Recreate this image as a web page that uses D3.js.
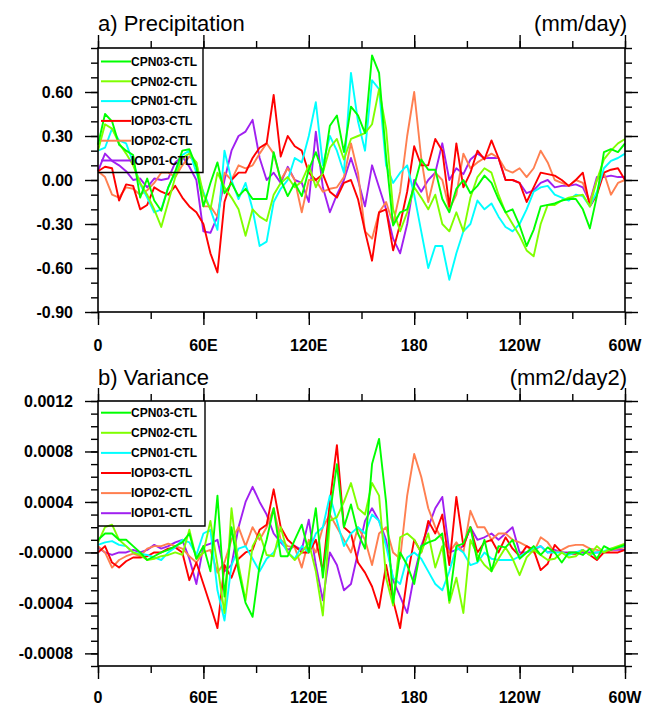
<!DOCTYPE html>
<html>
<head>
<meta charset="utf-8">
<script src="https://cdn.jsdelivr.net/npm/d3@7"></script>
<style>
  html, body { margin: 0; padding: 0; background: #fff; }
  svg { display: block; font-family: "Liberation Sans", Arial, Helvetica, sans-serif; }
</style>
</head>
<body>
<svg id="chart" width="649" height="708"></svg>
<script>
// Longitude grid (degrees east of 0), shared by all series
const lons = [0,4,8,12,16,20,24,28,32,36,40,44,48,52,56,60,64,68,72,76,80,84,88,92,96,
  100,104,108,112,116,120,124,128,132,136,140,144,148,152,156,160,164,168,172,176,180,184,188,192,196,
  200,204,208,212,216,220,224,228,232,236,240,244,248,252,256,260,264,268,272,276,280,284,288,292,296,300];

const seriesNames  = ["CPN03-CTL", "CPN02-CTL", "CPN01-CTL", "IOP03-CTL", "IOP02-CTL", "IOP01-CTL"];
const seriesColors = ["#00ff00", "#7fff00", "#00ffff", "#ff0000", "#ff7f50", "#a020f0"];

const xTickValues = [0, 60, 120, 180, 240, 300];
const xTickLabels = ["0", "60E", "120E", "180", "120W", "60W"];

const precipTickValues = [-0.9, -0.6, -0.3, 0, 0.3, 0.6];
const precipTickLabels = ["-0.90", "-0.60", "-0.30", "0.00", "0.30", "0.60"];
const varTickValues = [-0.0008, -0.0004, 0, 0.0004, 0.0008, 0.0012];
const varTickLabels = ["-0.0008", "-0.0004", "-0.0000", "0.0004", "0.0008", "0.0012"];

// a) precipitation differences (mm/day)
const precipCPN03 = [0.24,0.45,0.40,0.24,0.20,0.17,-0.12,0.01,-0.14,-0.21,-0.05,0.06,0.20,0.21,0.09,-0.18,-0.02,0.12,-0.09,-0.02,-0.11,-0.06,-0.13,-0.13,-0.13,
  0.19,0.00,-0.11,-0.02,-0.11,0.07,0.19,0.05,0.37,0.44,0.19,0.50,0.44,0.32,0.85,0.73,0.16,-0.31,-0.22,-0.20,-0.04,0.14,0.07,0.07,-0.13,
  -0.22,-0.06,0.00,-0.09,-0.04,0.03,-0.02,-0.13,-0.22,-0.20,-0.31,-0.45,-0.34,-0.18,-0.17,-0.16,-0.14,-0.13,-0.13,-0.20,-0.33,-0.11,0.19,0.21,0.19,0.25];
const precipCPN02 = [0.20,0.38,0.35,0.25,0.18,0.10,-0.02,-0.10,-0.20,-0.32,-0.15,0.02,0.15,0.18,0.12,-0.10,-0.20,0.05,-0.05,-0.12,-0.20,-0.38,-0.20,-0.25,-0.28,
  -0.10,-0.02,0.02,-0.05,-0.01,0.10,-0.05,0.05,0.22,0.28,0.14,0.28,0.30,0.32,0.38,0.62,0.35,-0.20,-0.35,-0.22,-0.05,-0.12,-0.20,-0.10,-0.30,
  -0.35,-0.22,-0.35,-0.12,0.02,0.08,0.05,-0.10,-0.22,-0.30,-0.38,-0.48,-0.52,-0.30,-0.17,-0.17,-0.14,-0.12,-0.11,-0.10,-0.18,0.00,0.14,0.20,0.25,0.28];
const precipCPN01 = [0.20,0.22,0.35,0.27,0.25,0.12,-0.03,-0.12,-0.22,-0.20,-0.05,0.05,0.17,0.20,0.05,-0.08,-0.20,-0.34,0.20,0.00,-0.13,-0.02,-0.20,-0.45,-0.42,
  -0.15,-0.06,0.00,0.15,0.12,0.30,0.53,0.10,0.30,0.20,0.05,0.73,0.40,0.20,0.68,0.62,0.10,-0.02,0.05,0.10,-0.10,-0.35,-0.60,-0.45,-0.45,
  -0.68,-0.50,-0.35,-0.30,-0.14,-0.20,-0.16,-0.25,-0.32,-0.35,-0.30,-0.20,-0.08,-0.05,-0.04,-0.10,-0.12,-0.14,-0.10,-0.11,-0.18,-0.08,0.08,0.13,0.15,0.18];
const precipIOP03 = [0.06,0.09,0.08,-0.14,-0.03,-0.04,-0.20,-0.17,-0.05,-0.08,-0.10,-0.04,-0.12,-0.18,-0.22,-0.30,-0.50,-0.63,-0.15,0.00,0.05,0.05,0.15,0.22,0.25,
  0.58,0.16,0.30,0.23,0.20,0.05,0.00,0.04,-0.08,-0.12,-0.02,0.00,-0.13,-0.35,-0.55,-0.22,-0.20,-0.48,-0.30,-0.08,0.23,0.10,0.10,0.28,0.20,
  -0.18,0.25,-0.05,0.05,0.20,0.14,0.27,0.15,0.00,0.00,-0.02,-0.15,-0.05,0.05,0.04,0.03,0.00,-0.04,0.00,0.05,-0.18,-0.10,0.05,0.07,0.08,0.00];
const precipIOP02 = [0.06,0.02,-0.10,-0.12,-0.05,-0.06,-0.10,-0.07,-0.02,0.05,0.05,0.02,0.10,0.16,0.12,-0.18,-0.18,-0.25,0.05,0.00,0.10,0.08,0.10,0.18,0.25,
  0.18,0.00,0.08,0.00,-0.22,0.00,0.00,-0.08,-0.06,-0.05,0.02,0.25,0.05,-0.35,-0.40,-0.22,-0.15,-0.30,-0.08,0.30,0.60,0.15,-0.15,0.05,0.00,
  -0.20,-0.10,0.18,0.08,0.12,0.15,0.18,0.15,0.07,0.05,0.08,0.02,0.08,0.20,0.12,0.00,-0.02,-0.04,0.00,-0.02,-0.15,0.00,0.05,-0.10,-0.02,0.00];
const precipIOP01 = [0.06,0.18,0.13,0.10,0.06,0.00,0.01,-0.05,0.01,0.00,0.01,0.12,0.16,0.09,0.00,-0.35,-0.36,-0.25,0.00,0.20,0.30,0.33,0.41,0.15,0.00,
  0.05,-0.02,0.09,0.00,-0.02,-0.15,0.33,-0.05,-0.22,-0.10,0.00,0.15,0.00,-0.18,0.10,-0.05,-0.20,-0.40,-0.50,-0.30,0.00,-0.08,0.00,0.05,0.25,
  0.00,0.08,0.04,0.14,0.18,0.15,0.15,0.15,0.00,0.00,-0.02,-0.09,-0.07,-0.02,0.00,-0.05,-0.04,-0.04,-0.03,-0.05,-0.15,0.02,0.02,0.03,0.02,0.02];

// b) variance differences (mm2/day2)
const varCPN03 = [1.0e-4,1.5e-4,1.5e-4,1.0e-4,1.0e-4,0.5e-4,0,-0.6e-4,-0.3e-4,0,0.2e-4,0.5e-4,0.8e-4,1.5e-4,-0.5e-4,0.5e-4,-1.5e-4,4.5e-4,-3.5e-4,2.0e-4,-1.5e-4,-4.0e-4,-5.1e-4,-1.0e-4,1.0e-4,
  3.5e-4,-0.3e-4,-0.3e-4,1.0e-4,2.2e-4,0,3.5e-4,-2.0e-4,3.0e-4,7.0e-4,2.0e-4,3.8e-4,1.5e-4,0.3e-4,7.0e-4,9.0e-4,4.0e-4,-4.0e-4,0,-1.0e-4,-2.5e-4,0.5e-4,0.8e-4,1.0e-4,1.5e-4,
  -3.8e-4,0.5e-4,0.7e-4,2.0e-4,-0.7e-4,1.0e-4,-1.5e-4,0.5e-4,0.4e-4,1.0e-4,-0.5e-4,0,0.5e-4,-0.2e-4,0.4e-4,0,-0.8e-4,0,0,-0.2e-4,0.3e-4,-0.5e-4,0.5e-4,0.2e-4,0.4e-4,0.6e-4];
const varCPN02 = [0.8e-4,2.0e-4,2.2e-4,1.0e-4,0.5e-4,0,-0.2e-4,-0.6e-4,-0.5e-4,-0.3e-4,-0.2e-4,0,-0.2e-4,1.8e-4,-0.5e-4,0,2.5e-4,-1.0e-4,-4.8e-4,3.5e-4,-1.0e-4,-3.8e-4,0.5e-4,1.5e-4,-0.2e-4,
  -0.3e-4,2.0e-4,0,-0.6e-4,0,0.8e-4,-1.5e-4,-5.0e-4,2.5e-4,2.8e-4,4.0e-4,5.5e-4,3.5e-4,3.0e-4,5.5e-4,4.5e-4,-2.0e-4,-4.2e-4,1.2e-4,1.5e-4,1.0e-4,0,1.5e-4,-1.2e-4,0.5e-4,
  -4.0e-4,-2.0e-4,-4.8e-4,1.0e-4,-0.2e-4,-1.0e-4,-1.5e-4,-0.5e-4,0.4e-4,-0.5e-4,-1.8e-4,-0.4e-4,0.2e-4,-0.2e-4,-0.6e-4,-0.5e-4,0,-0.4e-4,-0.3e-4,0.2e-4,-0.2e-4,0.5e-4,0,0.3e-4,0.5e-4,0.7e-4];
const varCPN01 = [0.6e-4,0.8e-4,0.9e-4,0.6e-4,0.5e-4,0,-0.1e-4,-0.2e-4,-0.4e-4,-0.6e-4,0,0.4e-4,1.0e-4,0.8e-4,-0.2e-4,1.5e-4,1.8e-4,-3.0e-4,-5.4e-4,-1.0e-4,0.3e-4,0.5e-4,-0.5e-4,-1.5e-4,-0.5e-4,
  0,1.0e-4,0,-0.5e-4,0.5e-4,0,1.5e-4,2.0e-4,4.5e-4,2.5e-4,0.5e-4,1.5e-4,2.0e-4,1.5e-4,3.0e-4,2.5e-4,0.5e-4,-2.0e-4,-2.5e-4,-0.4e-4,0,-0.5e-4,-1.5e-4,-2.5e-4,-3.0e-4,
  -1.5e-4,0.4e-4,0,-1.0e-4,-0.8e-4,0,-0.5e-4,-0.6e-4,-0.6e-4,-0.6e-4,-0.3e-4,0,0.3e-4,0.5e-4,0,0,0,-0.2e-4,0,0.2e-4,-0.2e-4,0,0.1e-4,0.3e-4,0.4e-4,0.5e-4];
const varIOP03 = [0,0.5e-4,-0.8e-4,-1.2e-4,-0.7e-4,-0.4e-4,-0.4e-4,-0.3e-4,0,0,0.3e-4,0.4e-4,0,-2.2e-4,-0.8e-4,-2.5e-4,-4.2e-4,-6.0e-4,-1.0e-4,-2.0e-4,-0.5e-4,0,0.2e-4,1.8e-4,2.2e-4,
  5.0e-4,2.0e-4,1.0e-4,0.5e-4,0,0,1.0e-4,-1.5e-4,4.0e-4,8.5e-4,2.0e-4,1.5e-4,-0.8e-4,-1.6e-4,-2.7e-4,-4.4e-4,-1.0e-4,-3.8e-4,-6.0e-4,-2.0e-4,1.0e-4,0,2.5e-4,1.5e-4,3.0e-4,
  -1.0e-4,4.4e-4,0.5e-4,2.0e-4,0,0.8e-4,1.0e-4,0,1.2e-4,0.3e-4,-0.3e-4,0.5e-4,0.2e-4,-1.4e-4,-0.9e-4,0.6e-4,0,-0.1e-4,-0.1e-4,0.2e-4,-0.2e-4,-0.6e-4,0,0,0,0.2e-4];
const varIOP02 = [0.5e-4,0,-1.2e-4,-0.6e-4,-0.3e-4,-0.1e-4,-0.3e-4,0.3e-4,0.5e-4,0.5e-4,0.7e-4,0.5e-4,0.3e-4,-0.3e-4,-0.8e-4,0,0.2e-4,-1.6e-4,-0.8e-4,1.0e-4,2.0e-4,0.5e-4,2.0e-4,1.0e-4,2.0e-4,
  3.5e-4,1.0e-4,0.5e-4,0.4e-4,-1.2e-4,1.0e-4,0,2.0e-4,3.0e-4,2.0e-4,1.0e-4,0,2.0e-4,1.0e-4,-1.0e-4,1.5e-4,2.0e-4,0,-0.5e-4,4.5e-4,7.8e-4,6.0e-4,3.5e-4,2.0e-4,1.0e-4,
  0,0.8e-4,0,3.3e-4,2.0e-4,2.0e-4,1.0e-4,1.5e-4,1.5e-4,1.0e-4,0.8e-4,0.5e-4,0,1.2e-4,0.8e-4,0,0.2e-4,0.5e-4,0.6e-4,0.6e-4,0.3e-4,0.2e-4,0,0.2e-4,0.3e-4,0.4e-4];
const varIOP01 = [0.4e-4,0,-0.2e-4,0,0,0.2e-4,0,0.2e-4,0.6e-4,0.3e-4,0.5e-4,0.8e-4,1.0e-4,-0.5e-4,-2.5e-4,0.5e-4,0.7e-4,1.0e-4,-1.5e-4,-1.0e-4,2.0e-4,4.0e-4,5.2e-4,4.0e-4,3.0e-4,
  1.5e-4,0.8e-4,0.2e-4,0.5e-4,0.2e-4,2.6e-4,-1.0e-4,-3.8e-4,0,-1.0e-4,-3.0e-4,-2.5e-4,0,2.5e-4,3.5e-4,2.5e-4,1.0e-4,-2.2e-4,-3.5e-4,-4.8e-4,-1.8e-4,0.5e-4,2.0e-4,3.5e-4,4.4e-4,
  0,0.2e-4,0.5e-4,2.0e-4,1.0e-4,1.2e-4,1.5e-4,1.0e-4,1.5e-4,2.0e-4,0,0,0.2e-4,0.5e-4,0,0.2e-4,0,0,0,0,0,0,0,0.2e-4,0.2e-4,0.2e-4];

const precipSeries = [precipCPN03, precipCPN02, precipCPN01, precipIOP03, precipIOP02, precipIOP01];
const varSeries    = [varCPN03, varCPN02, varCPN01, varIOP03, varIOP02, varIOP01];

// ---- layout ----
const plotLeft = 98, plotRight = 625;
const panels = [
  { title: "a) Precipitation", units: "(mm/day)", top: 48, bottom: 312, domain: [-0.9, 0.9],
    minor: d3.range(-9, 10).map(k => k * 0.1), ticks: precipTickValues, labels: precipTickLabels,
    series: precipSeries, titleY: 31, xLabelY: 351,
    legend: { right: 203, bottom: 172.5, y0: 61.5, dy: 19.8 } },
  { title: "b) Variance", units: "(mm2/day2)", top: 401, bottom: 666, domain: [-0.0009, 0.0012],
    minor: d3.range(-9, 13).map(k => k * 0.0001), ticks: varTickValues, labels: varTickLabels,
    series: varSeries, titleY: 385, xLabelY: 703,
    legend: { right: 205, bottom: 526, y0: 412.7, dy: 20.1 } }
];

const svg = d3.select("#chart");
const x = d3.scaleLinear().domain([0, 300]).range([plotLeft, plotRight]);
const xMinor = d3.range(0, 301, 30);
const majorLen = 13, minorLen = 7;

panels.forEach(p => {
  const y = d3.scaleLinear().domain(p.domain).range([p.bottom, p.top]);
  const g = svg.append("g");

  // data lines (drawn first so the frame sits on top)
  const line = d3.line().x((d, i) => x(lons[i])).y(d => y(d));
  const order = [5, 4, 3, 2, 1, 0];
  order.forEach(k => {
    g.append("path")
      .datum(p.series[k])
      .attr("fill", "none")
      .attr("stroke", seriesColors[k])
      .attr("stroke-width", 1.9)
      .attr("stroke-linejoin", "round")
      .attr("d", line);
  });

  // axes: minor and major ticks on all four sides
  function axisPair(axisFn, scale, minorVals, majorVals, fmt, transform) {
    const gm = g.append("g").attr("transform", transform)
      .call(axisFn(scale).tickValues(minorVals).tickSize(minorLen).tickFormat(""));
    const gM = g.append("g").attr("transform", transform)
      .call(axisFn(scale).tickValues(majorVals).tickSize(majorLen).tickPadding(8).tickFormat(fmt));
    [gm, gM].forEach(a => {
      a.select(".domain").remove();
      a.selectAll("line").attr("stroke", "#000").attr("stroke-width", 1.4);
    });
    return gM;
  }
  const left = axisPair(d3.axisLeft, y, p.minor, p.ticks, (d, i) => p.labels[i], `translate(${plotLeft},0)`);
  axisPair(d3.axisRight, y, p.minor, p.ticks, "", `translate(${plotRight},0)`);
  const bottom = axisPair(d3.axisBottom, x, xMinor, xTickValues, (d, i) => xTickLabels[i], `translate(0,${p.bottom})`);
  axisPair(d3.axisTop, x, xMinor, xTickValues, "", `translate(0,${p.top})`);

  left.selectAll("text")
    .attr("font-size", 16).attr("font-weight", "bold").attr("fill", "#000")
    .attr("font-family", "Liberation Sans, Arial, sans-serif")
    .attr("x", -25);
  bottom.selectAll("text").remove();
  xTickValues.forEach((v, i) => {
    g.append("text").attr("x", x(v)).attr("y", p.xLabelY)
      .attr("text-anchor", "middle").attr("font-size", 16).attr("font-weight", "bold")
      .text(xTickLabels[i]);
  });

  // frame
  g.append("rect")
    .attr("x", plotLeft).attr("y", p.top)
    .attr("width", plotRight - plotLeft).attr("height", p.bottom - p.top)
    .attr("fill", "none").attr("stroke", "#000").attr("stroke-width", 1.6);

  // titles
  g.append("text").attr("x", plotLeft).attr("y", p.titleY)
    .attr("font-size", 22).text(p.title);
  g.append("text").attr("x", plotRight + 2).attr("y", p.titleY)
    .attr("text-anchor", "end").attr("font-size", 22).text(p.units);

  // legend box and entries
  const L = p.legend;
  g.append("path")
    .attr("d", `M${plotLeft},${L.bottom}H${L.right}V${p.top}`)
    .attr("fill", "none").attr("stroke", "#000").attr("stroke-width", 1.4);
  seriesNames.forEach((name, k) => {
    const ly = L.y0 + k * L.dy;
    g.append("line").attr("x1", plotLeft + 3).attr("x2", plotLeft + 33)
      .attr("y1", ly).attr("y2", ly)
      .attr("stroke", seriesColors[k]).attr("stroke-width", 2);
    g.append("text").attr("x", plotLeft + 33).attr("y", ly)
      .attr("dy", "0.35em").attr("font-size", 12).attr("font-weight", "bold")
      .text(name);
  });
});
</script>
</body>
</html>
